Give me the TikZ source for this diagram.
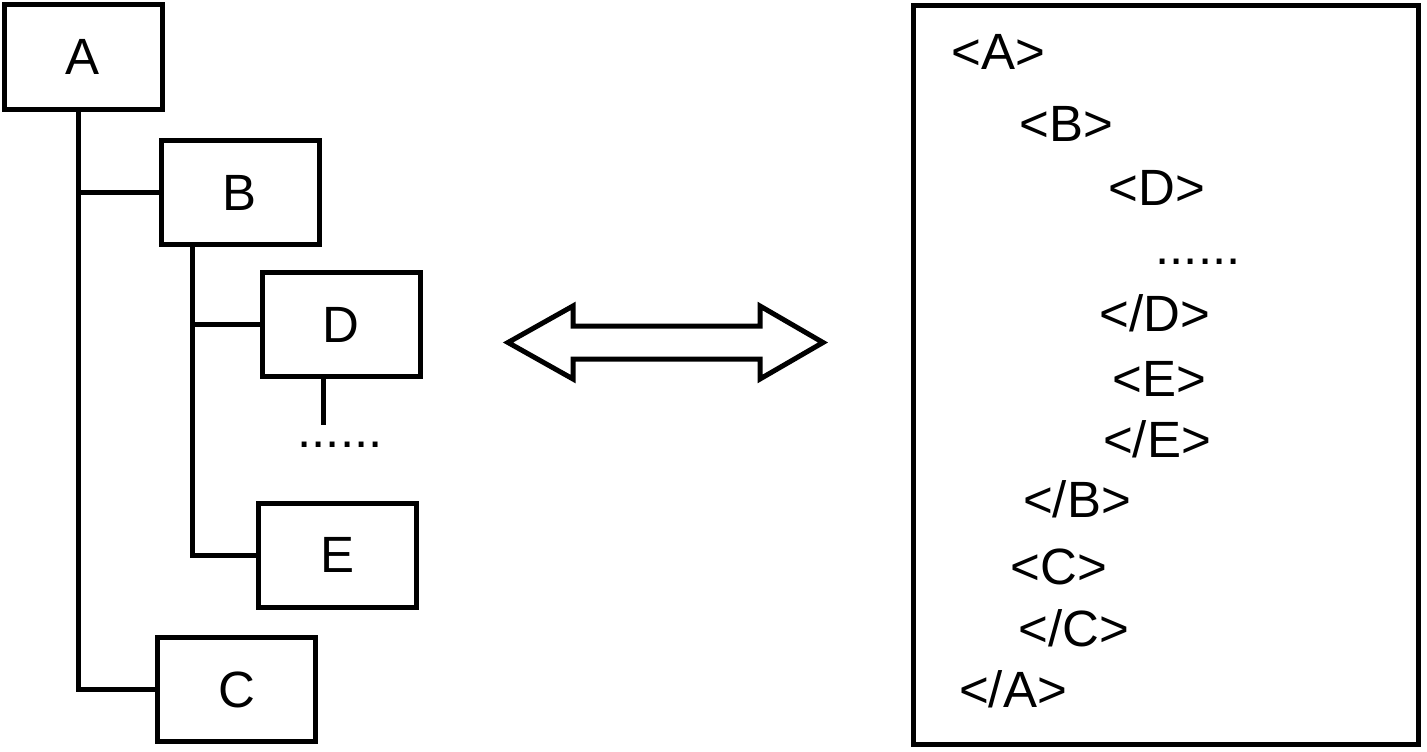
\documentclass[tikz,border=0pt]{standalone}
\usepackage{fontspec}
\setmainfont{Liberation Sans}
\begin{document}
\begin{tikzpicture}[x=1pt,y=-1pt,
  lw/.style={line width=5pt},
  treebox/.style={draw, lw, minimum width=158pt, minimum height=104pt, inner sep=0pt,
    font=\fontsize{51}{60}\selectfont},
  link/.style={lw, line cap=butt, line join=miter},
  tag/.style={inner sep=0pt, anchor=base, font=\fontsize{51}{60}\selectfont}]
\useasboundingbox (0,0) rectangle (1427,752);

% tree
\node[treebox] (A) at (83,57) {A};
\node[treebox] (B) at (240,192.5) {B};
\node[treebox] (D) at (341,324.5) {D};
\node[treebox] (E) at (337.5,555) {E};
\node[treebox] (C) at (236.5,689.5) {C};

\draw[link] ([xshift=-5pt]A.south) |- (C.west);
\draw[link] ([xshift=-5pt]A.south) |- (B.west);
\draw[link] ([xshift=-48pt]B.south) |- (E.west);
\draw[link] ([xshift=-48pt]B.south) |- (D.west);
\draw[link] ([xshift=-18pt]D.south) -- ++(0,46) coordinate (dend);
\node[tag] (dots1) at (340,447) {......};

% double arrow
\draw[link] (508,342.5) -- (573,306) -- (573,326) -- (760,326) -- (760,306)
  -- (823,342.5) -- (760,379) -- (760,359) -- (573,359) -- (573,379) -- cycle;

% xml box
\node[draw, lw, minimum width=505pt, minimum height=738.5pt, inner sep=0pt] (xml) at (1165.5,375.25) {};
\node[tag] (t1) at (998,70) {<A>};
\node[tag] (t2) at (1066,141) {<B>};
\node[tag] (t3) at (1157,205) {<D>};
\node[tag] (t4) at (1198,264) {......};
\node[tag] (t5) at (1155,331) {</D>};
\node[tag] (t6) at (1159,396) {<E>};
\node[tag] (t7) at (1157,457) {</E>};
\node[tag] (t8) at (1077,517) {</B>};
\node[tag] (t9) at (1059,584) {<C>};
\node[tag] (t10) at (1074,646) {</C>};
\node[tag] (t11) at (1013,707) {</A>};
\end{tikzpicture}
\end{document}
